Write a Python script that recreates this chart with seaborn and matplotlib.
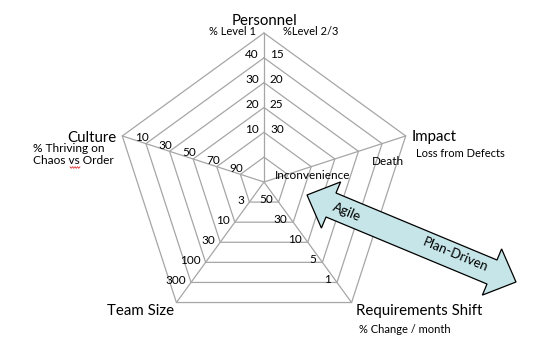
import numpy as np
import pandas as pd
import matplotlib
matplotlib.use("Agg")
import matplotlib.pyplot as plt
from matplotlib.patches import Polygon
import seaborn as sns

# ---- data ----
axis_names = ["Personnel", "Impact", "Requirements Shift", "Team Size", "Culture"]
axis_subtitles = ["", "Loss from Defects", "% Change / month", "", "% Thriving on\nChaos vs Order"]
personnel_left = ["10", "20", "30", "40"]       # % Level 1, rings 2..5
personnel_right = ["30", "25", "20", "15"]      # % Level 2/3, rings 2..5
impact_labels = ["Inconvenience", "Death"]      # rings 2 and 5
requirements_labels = ["50", "30", "10", "5", "1"]   # rings 1..5
team_labels = ["3", "10", "30", "100", "300"]        # rings 1..5
culture_labels = ["90", "70", "50", "30", "10"]      # rings 1..5
n_rings = 6
arrow_labels = ["Agile", "Plan-Driven"]

# ---- style ----
sns.set_theme(style="white")
plt.rcParams['font.family'] = ['Lato', 'DejaVu Sans']
plt.rcParams['text.color'] = 'black'
GRID = "#a6a6a6"
FS_TICK = 8.5
FS_TITLE = 10.8
FS_SUB = 8.0

W, H = 555, 359
fig = plt.figure(figsize=(W / 100, H / 100), dpi=100)
ax = fig.add_axes([0, 0, 1, 1])

cx, cy, R = 264.0, 182.0, 149.0
angles = np.deg2rad([90, 18, -54, -126, 162])


def pt(axis_i, ring):
    r = R * ring / n_rings
    return cx + r * np.cos(angles[axis_i]), cy - r * np.sin(angles[axis_i])


# rings
rows = []
for k in range(1, n_rings + 1):
    for j in range(6):
        x, y = pt(j % 5, k)
        rows.append(dict(x=x, y=y, ring=k, order=j))
rings = pd.DataFrame(rows)
sns.lineplot(data=rings, x="x", y="y", units="ring", estimator=None, sort=False,
             color=GRID, lw=0.9, ax=ax, legend=False)
# spokes
rows = []
for i in range(5):
    x, y = pt(i, n_rings)
    rows.append(dict(x=cx, y=cy, spoke=i))
    rows.append(dict(x=x, y=y, spoke=i))
spokes = pd.DataFrame(rows)
sns.lineplot(data=spokes, x="x", y="y", units="spoke", estimator=None, sort=False,
             color=GRID, lw=0.9, ax=ax, legend=False)
ax.set_xlim(0, W)
ax.set_ylim(H, 0)
ax.axis("off")

# ---- tick labels ----
for k, (l, r) in enumerate(zip(personnel_left, personnel_right), start=2):
    x, y = pt(0, k)
    ax.text(x - 5, y - 3, l, ha="right", va="center", fontsize=FS_TICK)
    ax.text(x + 6, y - 3, r, ha="left", va="center", fontsize=FS_TICK)

for k, lab in enumerate(culture_labels, start=1):
    x, y = pt(4, k)
    ax.text(x - 4, y - 6, lab, ha="center", va="center", fontsize=FS_TICK)

for k, lab in enumerate(requirements_labels, start=1):
    x, y = pt(2, k)
    ax.text(x - 6, y - 3, lab, ha="right", va="center", fontsize=FS_TICK)

for k, lab in enumerate(team_labels, start=1):
    x, y = pt(3, k)
    ax.text(x - 5, y - 2, lab, ha="right", va="center", fontsize=FS_TICK)

x, y = pt(1, 2)
ax.text(x + 1, y + 9, impact_labels[0], ha="center", va="center", fontsize=FS_TICK)
x, y = pt(1, 5)
ax.text(x + 6, y + 18, impact_labels[1], ha="center", va="center", fontsize=FS_TICK)

# ---- axis titles ----
ax.text(264.5, 25, axis_names[0], ha="center", va="baseline", fontsize=FS_TITLE)
ax.text(256, 35, "% Level 1", ha="right", va="baseline", fontsize=FS_SUB)
ax.text(283, 35, "%Level 2/3", ha="left", va="baseline", fontsize=FS_SUB)

ax.text(412, 141.5, axis_names[1], ha="left", va="baseline", fontsize=FS_TITLE)
ax.text(416, 157, axis_subtitles[1], ha="left", va="baseline", fontsize=FS_SUB)

ax.text(356, 315, axis_names[2], ha="left", va="baseline", fontsize=FS_TITLE)
ax.text(359, 333, axis_subtitles[2], ha="left", va="baseline", fontsize=FS_SUB)

ax.text(107, 315, axis_names[3], ha="left", va="baseline", fontsize=FS_TITLE)

ax.text(117, 141.5, axis_names[4], ha="right", va="baseline", fontsize=FS_TITLE)
sub_lines = axis_subtitles[4].split("\n")
ax.text(33, 152, sub_lines[0], ha="left", va="baseline", fontsize=8.6)
ax.text(33, 164.5, sub_lines[1], ha="left", va="baseline", fontsize=8.6)
# spell-check squiggle under "vs"
sx = np.linspace(70, 80, 9)
sy = 167.5 + np.where(np.arange(9) % 2 == 0, -0.8, 0.8)
ax.plot(sx, sy, color="#e03030", lw=0.6)

# ---- double arrow ----
p0 = np.array([307.0, 195.0])
p1 = np.array([516.0, 282.0])
u = (p1 - p0) / np.linalg.norm(p1 - p0)
n = np.array([u[1], -u[0]])
hl, hw, sw = 26.0, 25.0, 13.0
pts = [
    p0,
    p0 + u * hl + n * hw,
    p0 + u * hl + n * sw,
    p1 - u * hl + n * sw,
    p1 - u * hl + n * hw,
    p1,
    p1 - u * hl - n * hw,
    p1 - u * hl - n * sw,
    p0 + u * hl - n * sw,
    p0 + u * hl - n * hw,
]
ax.add_patch(Polygon(pts, closed=True, facecolor="#c6e5e8", edgecolor="black", lw=0.9, zorder=5))
ang = -np.degrees(np.arctan2(p1[1] - p0[1], p1[0] - p0[0]))
ax.text(347, 212, arrow_labels[0], ha="center", va="center", rotation=ang,
        rotation_mode="anchor", fontsize=9.5, zorder=6)
ax.text(455, 255, arrow_labels[1], ha="center", va="center", rotation=ang,
        rotation_mode="anchor", fontsize=9.5, zorder=6)

fig.savefig("out.png", dpi=100)
